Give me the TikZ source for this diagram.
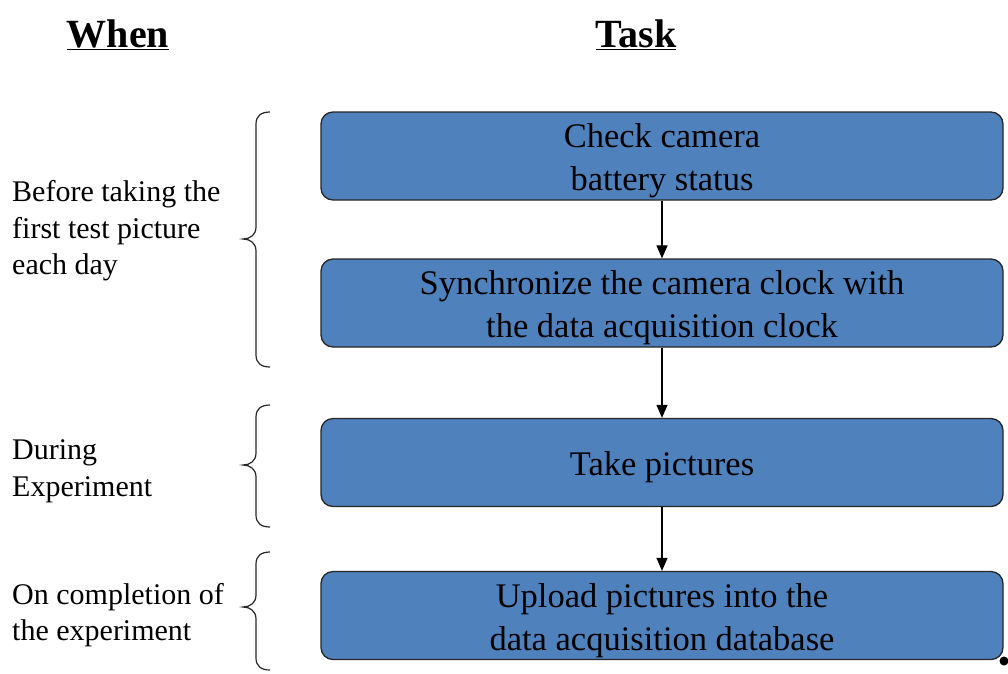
\documentclass[tikz,border=0pt]{standalone}
\usepackage{fontspec}
\setmainfont{Liberation Serif}
\usetikzlibrary{arrows.meta}
\definecolor{boxblue}{HTML}{4F81BD}
\newcommand\bracepath[3]{%
  \draw[brace] (270,#1) .. controls (261,#1) and (256,{#1+4}) .. (256,{#1+12})
    -- (256,{#2-12}) .. controls (256,{#2-4}) and (250,#2) .. (243,#2)
    .. controls (250,#2) and (256,{#2+4}) .. (256,{#2+12})
    -- (256,{#3-12}) .. controls (256,{#3-4}) and (261,#3) .. (270,#3);}
\begin{document}
\begin{tikzpicture}[x=1pt,y=-1pt,
  taskbox/.style={draw=black!85, line width=1.3pt, fill=boxblue, rounded corners=12pt,
    minimum width=682pt, minimum height=88pt, inner sep=0pt},
  tasktext/.style={align=center, inner sep=0pt, font=\fontsize{34.5}{43}\selectfont},
  lefttext/.style={anchor=west, align=left, inner sep=0pt, font=\fontsize{30}{36.5}\selectfont},
  header/.style={inner sep=0pt, font=\fontsize{40}{48}\selectfont\bfseries},
  flow/.style={-{Triangle[length=13pt,width=11pt]}, line width=1.2pt},
  brace/.style={line width=1.2pt, black!85}]
\useasboundingbox (0,0) rectangle (1008,673);

\node[header] (when) at (118,35) {\underline{When}};
\node[header] (task) at (636,35) {\underline{Task}};

\node[taskbox] (b1) at (662,156) {};
\node[taskbox] (b2) at (662,303) {};
\node[taskbox] (b3) at (662,462.5) {};
\node[taskbox] (b4) at (662,615.5) {};
\node[tasktext] (t1) at ([yshift=-5pt]b1.center) {Check camera\\battery status};
\node[tasktext] (t2) at ([yshift=-5pt]b2.center) {Synchronize the camera clock with\\the data acquisition clock};
\node[tasktext] (t3) at ([yshift=-5pt]b3.center) {Take pictures};
\node[tasktext] (t4) at ([yshift=-5pt]b4.center) {Upload pictures into the\\data acquisition database};

\draw[flow] (b1.south) -- (b2.north);
\draw[flow] (b2.south) -- (b3.north);
\draw[flow] (b3.south) -- (b4.north);

\node[lefttext] (l1) at (12,231) {Before taking the\\first test picture\\each day};
\node[lefttext] (l2) at (12,471) {During\\Experiment};
\node[lefttext] (l3) at (12,615) {On completion of\\the experiment};

\bracepath{112}{239}{367}
\bracepath{405}{465}{527}
\bracepath{552}{607}{670}

\fill (1004,661) circle (4.5pt);
\end{tikzpicture}
\end{document}
